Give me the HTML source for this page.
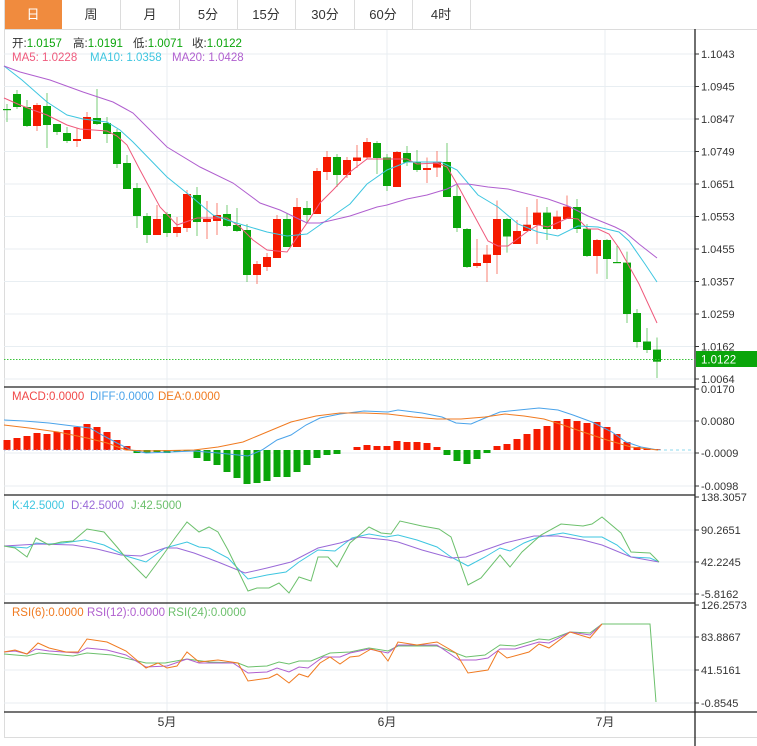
<!DOCTYPE html>
<html><head><meta charset="utf-8">
<style>
body{margin:0;background:#fff;width:757px;height:746px;overflow:hidden;font-family:"Liberation Sans","Noto Sans CJK SC",sans-serif}
svg{position:absolute;left:0;top:0}
</style></head><body>
<svg id="s" width="757" height="746" xmlns="http://www.w3.org/2000/svg" font-family="Liberation Sans, Noto Sans CJK SC, sans-serif">
<rect x="0" y="0" width="757" height="746" fill="#fff"/>
<rect x="4" y="0" width="58" height="29" fill="#f08b3e"/>
<g stroke="#dcdcdc" stroke-width="1">
<line x1="4" y1="29.5" x2="757" y2="29.5"/>
<line x1="120.5" y1="0" x2="120.5" y2="29"/><line x1="179.5" y1="0" x2="179.5" y2="29"/>
<line x1="237.5" y1="0" x2="237.5" y2="29"/><line x1="295.5" y1="0" x2="295.5" y2="29"/>
<line x1="354.5" y1="0" x2="354.5" y2="29"/><line x1="412.5" y1="0" x2="412.5" y2="29"/>
<line x1="470.5" y1="0" x2="470.5" y2="29"/>
<line x1="4.5" y1="0" x2="4.5" y2="737"/>
<line x1="4" y1="737.5" x2="757" y2="737.5"/>
</g>
<g font-size="13" fill="#333" text-anchor="middle">
<text x="33" y="19" fill="#fff">日</text><text x="91" y="19">周</text><text x="150" y="19">月</text>
<text x="208" y="19">5分</text><text x="266" y="19">15分</text><text x="325" y="19">30分</text>
<text x="383" y="19">60分</text><text x="441" y="19">4时</text>
</g>
<g id="grid" stroke="#e8eef2" stroke-width="1"></g>
<g id="plot"></g>
<g stroke="#222" stroke-width="1.3">
<line x1="695" y1="29" x2="695" y2="746"/>
<line x1="4" y1="387" x2="695" y2="387"/>
<line x1="4" y1="495" x2="695" y2="495"/>
<line x1="4" y1="603" x2="695" y2="603"/>
<line x1="4" y1="712" x2="757" y2="712"/>
</g>
<g id="axis" font-size="11" fill="#333"></g>
<line x1="4" y1="359.5" x2="695" y2="359.5" stroke="#3cc43c" stroke-dasharray="1.5,1.5"/>
<rect x="696" y="351" width="61" height="16" fill="#0aa50a"/>
<text x="701" y="363.5" font-size="11.5" fill="#fff">1.0122</text>
<g font-size="11.5">
<text x="12" y="47" fill="#333">开:<tspan fill="#0aa50a">1.0157</tspan></text>
<text x="73" y="47" fill="#333">高:<tspan fill="#0aa50a">1.0191</tspan></text>
<text x="133" y="47" fill="#333">低:<tspan fill="#0aa50a">1.0071</tspan></text>
<text x="192" y="47" fill="#333">收:<tspan fill="#0aa50a">1.0122</tspan></text>
<text x="12" y="61" fill="#ef5a7c">MA5: 1.0228</text><text x="90" y="61" fill="#3ec6e0">MA10: 1.0358</text><text x="172" y="61" fill="#b05fcf">MA20: 1.0428</text>
<text x="12" y="400" fill="#f04848">MACD:0.0000</text><text x="90" y="400" fill="#4aa3ea">DIFF:0.0000</text><text x="158" y="400" fill="#f07a20">DEA:0.0000</text>
<text x="12" y="509" fill="#3ec6e0">K:42.5000</text><text x="71" y="509" fill="#9a6ad8">D:42.5000</text><text x="131" y="509" fill="#6cc06c">J:42.5000</text>
<text x="12" y="616" fill="#f07a20">RSI(6):0.0000</text><text x="87" y="616" fill="#b05fcf">RSI(12):0.0000</text><text x="168" y="616" fill="#6cc06c">RSI(24):0.0000</text>
</g>
<g font-size="12" fill="#333" text-anchor="middle">
<text x="167" y="726">5月</text><text x="387" y="726">6月</text><text x="605" y="726">7月</text>
</g>
</svg>
<script>
var NS="http://www.w3.org/2000/svg";
function el(p,t,a){var e=document.createElementNS(NS,t);for(var k in a)e.setAttribute(k,a[k]);document.getElementById(p).appendChild(e);return e;}
var hy=[54,86.5,119,151.5,184,216.5,249,281.5,314,346.5,379,421,453,486,530,562,594,637,670,703];
hy.forEach(function(y){el("grid","line",{x1:4,x2:695,y1:y,y2:y});});
[167,387,605].forEach(function(x){el("grid","line",{x1:x,x2:x,y1:30,y2:712});});
var lab=[[54,"1.1043"],[86.5,"1.0945"],[119,"1.0847"],[151.5,"1.0749"],[184,"1.0651"],[216.5,"1.0553"],[249,"1.0455"],[281.5,"1.0357"],[314,"1.0259"],[346.5,"1.0162"],[379,"1.0064"],
[389,"0.0170"],[421,"0.0080"],[453,"-0.0009"],[486,"-0.0098"],
[497,"138.3057"],[530,"90.2651"],[562,"42.2245"],[594,"-5.8162"],
[605,"126.2573"],[637,"83.8867"],[670,"41.5161"],[703,"-0.8545"]];
lab.forEach(function(l){el("axis","line",{x1:695,x2:699,y1:l[0],y2:l[0],stroke:"#333"});var t=el("axis","text",{x:701,y:l[0]+4});t.textContent=l[1];});
var C=[[109,110,104,122,"g"],[94,107,90,109,"g"],[107,126,100,127,"g"],[105,126,103,131,"r"],[106,125,93,148,"g"],[124,132,124,135,"g"],[133,141,127,143,"g"],[139,141,128,147,"r"],[117,139,112,139,"r"],[118,124,89,125,"g"],
[123,134,117,143,"g"],[132,164,129,168,"g"],[163,189,155,189,"g"],[188,216,183,228,"g"],[216,235,213,243,"g"],[219,235,205,235,"r"],[214,233,212,237,"g"],[227,233,217,237,"r"],[194,228,190,232,"r"],[195,222,187,236,"g"],
[219,222,201,239,"r"],[215,221,203,235,"r"],[214,226,205,227,"g"],[225,231,208,232,"g"],[230,275,224,282,"g"],[264,275,261,284,"r"],[257,267,253,271,"r"],[219,258,215,258,"r"],[219,247,213,247,"g"],[207,247,198,247,"r"],
[208,215,201,223,"g"],[171,214,168,214,"r"],[157,172,151,180,"r"],[157,175,154,187,"g"],[160,175,157,178,"r"],[157.5,161,145,168,"r"],[142,157.5,138,158.5,"r"],[143,158,141,174,"g"],[157.5,186,154,191,"g"],[152,187,151,187,"r"],
[153,162.5,146,166,"g"],[162,170,150,172,"g"],[168,170,157.5,183,"r"],[162,167.6,151,177,"r"],[162,197,143,197,"g"],[196,228,185,232,"g"],[229,267,228,268,"g"],[263,266,239,268,"r"],[254.6,263,245,282,"r"],[219,255,200.5,274,"r"],
[219,236.5,218,252.6,"g"],[231,244,220,244,"r"],[224.7,231,207,231,"r"],[212.6,225,199,244,"r"],[212.6,229,207,240,"g"],[216.6,229,210.6,230,"r"],[206.6,219,195.5,219,"r"],[207,229,199,233,"g"],[228.7,256,224,257,"g"],[240,256,239,273.7,"r"],
[240,259,239,279,"g"],[262,263,246,263,"g"],[262.6,314,251.6,323,"g"],[313,342,309,347.6,"g"],[341.5,350,328,353,"g"],[349.6,361.7,337.5,378,"g"]];
var RED="#f51a00",GRN="#0aa50a";
C.forEach(function(c,i){var x=7+10*i,col=c[4]=="r"?RED:GRN;
el("plot","line",{x1:x,x2:x,y1:c[2],y2:c[3],stroke:col,"stroke-opacity":0.55,"stroke-width":1});
el("plot","rect",{x:x-4,y:c[0],width:8,height:Math.max(1.2,c[1]-c[0]),fill:col});});
function pl(pts,col,w){el("plot","polyline",{points:pts.map(function(p){return p.join(",")}).join(" "),fill:"none",stroke:col,"stroke-width":w||1});}
pl([[4,98],[20,105],[33,110],[47,115],[67,125],[80,129],[107,131],[117,136],[127,145],[140,170],[160,207],[177,225],[197,218],[227,218],[240,227],[253,240],[267,250],[287,252],[307,223],[320,203],[333,190],[350,172],[367,159],[407,159],[417,164],[437,163],[447,167],[457,184],[488,241],[498,246],[508,246],[528,231],[538,225],[548,227],[568,218],[578,219],[588,229],[598,229],[609,234],[619,248],[639,284],[657,323]],"#ef5a7c");
pl([[4,66],[22,80],[47,102],[67,115],[83,119],[107,122],[120,130],[133,142],[167,177],[193,198],[213,215],[233,222],[267,232],[287,236],[307,234],[327,220],[350,204],[367,184],[387,170],[407,162],[441,162],[457,170],[478,195],[498,207],[518,224],[538,232],[558,236],[578,226],[598,227],[619,232],[629,241],[645,264],[657,282]],"#3ec6e0");
pl([[4,66],[20,72],[50,80],[83,92],[113,102],[133,113],[167,147],[200,167],[233,183],[260,203],[280,210],[307,223],[320,223],[333,220],[350,216],[377,207],[387,205],[407,199],[427,195],[447,189],[457,184],[468,184],[488,187],[508,189],[528,194],[548,199],[568,206],[588,216],[615,227],[625,232],[639,244],[657,258]],"#b05fcf");
var H=[440,438,436,433,434,432,430,427,424,427,432,440,446,453,453,452,453,452,451,458,461,465,472,478,484,483,481,477,477,472,465,458,455,454,450,447,445,446,446,441,442,442,443,447,455,461,464,459,453,446,444,439,434,429,426,421,419,421,423,422,427,434,442,447,448,449];
H.forEach(function(y,i){var x=7+10*i;if(Math.abs(y-450)<1)return;var up=y<450;
el("plot","rect",{x:x-3.5,y:up?y:450,width:7,height:Math.abs(y-450),fill:up?RED:GRN});});
el("plot","line",{x1:4,x2:130,y1:450,y2:450,stroke:"#9ad","stroke-dasharray":"2,2","stroke-width":0.8});
el("plot","line",{x1:658,x2:693,y1:450,y2:450,stroke:"#8cd8ee","stroke-dasharray":"3,3","stroke-width":1});
pl([[4,420],[24,421],[49,423],[73,426],[90,428],[102,435],[117,443],[131,450],[146,453],[170,452],[194,451],[218,453],[248,456],[262,450],[277,440],[291,435],[306,425],[320,418],[340,414],[364,411],[388,412],[398,410],[422,413],[442,417],[456,423],[471,424],[485,418],[500,412],[519,410],[539,408],[558,410],[573,415],[592,422],[612,432],[626,442],[641,447],[658,450]],"#4aa3ea");
pl([[4,425],[29,428],[58,432],[87,438],[107,443],[126,450],[146,451],[194,450],[218,447],[243,442],[267,432],[291,422],[316,416],[340,413],[364,413],[388,414],[413,417],[437,419],[461,419],[485,417],[505,414],[524,416],[544,419],[563,425],[583,432],[607,440],[631,447],[658,450]],"#f07a20");
pl([[4,546],[15,547],[27,548],[36,543],[49,544],[63,543],[85,540],[104,545],[126,556],[146,562],[165,548],[187,542],[199,547],[209,548],[228,558],[248,579],[267,575],[286,572],[299,562],[318,550],[335,551],[352,538],[369,534],[386,537],[398,535],[417,540],[437,547],[451,557],[468,566],[485,557],[500,548],[510,551],[524,543],[539,537],[563,533],[583,537],[602,537],[617,545],[631,557],[650,558],[659,562]],"#3ec6e0");
pl([[4,546],[39,544],[73,545],[97,549],[121,555],[141,556],[165,548],[177,548],[194,553],[218,562],[245,573],[267,568],[291,562],[318,548],[340,543],[359,537],[388,540],[398,542],[422,550],[451,558],[466,557],[485,550],[505,543],[534,536],[558,536],[583,540],[602,545],[631,557],[659,562]],"#9a6ad8");
pl([[4,546],[15,548],[27,557],[36,538],[49,545],[61,542],[73,541],[87,529],[104,532],[117,547],[126,558],[146,578],[163,555],[175,538],[187,522],[199,532],[209,527],[218,532],[228,550],[248,591],[257,588],[269,588],[279,583],[289,593],[299,577],[311,581],[318,557],[328,557],[337,567],[350,543],[369,527],[381,533],[391,534],[400,521],[422,526],[439,529],[451,537],[468,585],[481,578],[500,555],[510,567],[522,552],[541,535],[561,524],[583,526],[592,524],[602,517],[621,533],[631,552],[650,553],[659,562]],"#6cc06c");
pl([[4,654],[27,656],[39,653],[73,656],[87,653],[112,655],[146,663],[165,663],[187,659],[209,662],[238,663],[248,667],[267,666],[279,662],[289,664],[299,661],[311,661],[330,653],[350,652],[369,648],[388,651],[398,646],[437,646],[466,657],[485,655],[500,645],[515,646],[539,639],[549,640],[570,632],[590,633],[602,624],[650,624],[656,702]],"#6cc06c");
pl([[4,652],[15,651],[27,654],[36,649],[49,651],[78,653],[87,648],[107,650],[126,655],[146,667],[167,666],[187,659],[199,663],[233,663],[248,673],[267,672],[277,668],[289,672],[299,667],[308,668],[323,657],[340,657],[350,653],[369,649],[388,653],[398,645],[437,645],[459,660],[476,660],[488,658],[500,649],[515,649],[539,642],[549,643],[570,632],[590,635],[602,624]],"#b05fcf");
pl([[4,652],[15,650],[27,654],[38,643],[49,648],[66,652],[78,652],[87,639],[107,642],[126,651],[146,668],[158,663],[167,668],[177,666],[187,652],[199,662],[218,660],[238,663],[248,681],[269,678],[277,674],[289,683],[299,674],[308,677],[320,663],[330,657],[340,664],[350,657],[359,656],[371,649],[381,652],[388,661],[398,642],[417,645],[437,642],[456,653],[468,673],[488,670],[498,651],[507,658],[529,652],[539,644],[549,648],[570,632],[590,638],[602,624]],"#f07a20");
</script>
</body></html>
